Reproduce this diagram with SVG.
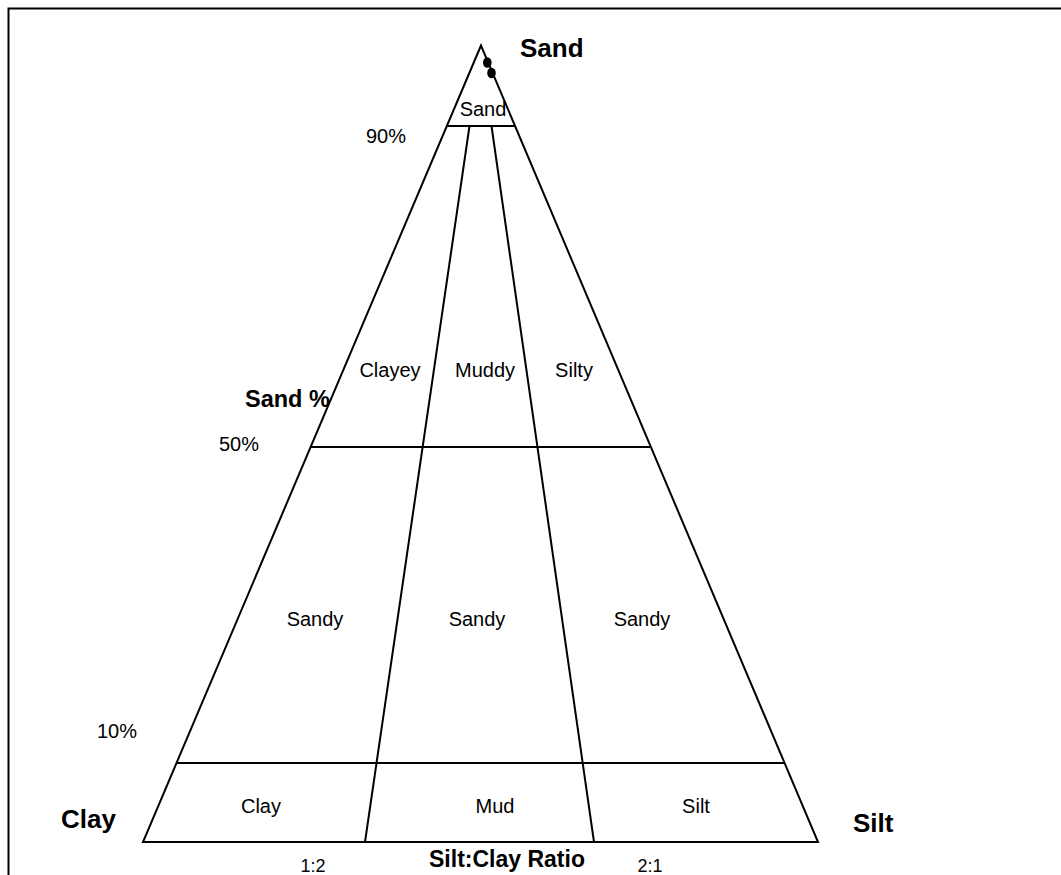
<svg xmlns="http://www.w3.org/2000/svg" width="1061" height="875" viewBox="0 0 1061 875">
<style>
.ln{stroke:#000;stroke-width:2;fill:none}
.t{font-family:"Liberation Sans",Arial,sans-serif;font-size:20px;fill:#000}
.b{font-family:"Liberation Sans",Arial,sans-serif;font-size:26px;font-weight:bold;fill:#000}
.m{text-anchor:middle}
</style>
<rect x="8.5" y="8.5" width="1100" height="1000" fill="#fff" stroke="#000" stroke-width="2"/>
<g id="connectors">
<polygon class="ln" points="481,45.5 143,842 818,842"/>
<line class="ln" x1="446" y1="126" x2="515" y2="126"/>
<line class="ln" x1="311" y1="447" x2="651" y2="447"/>
<line class="ln" x1="177" y1="763" x2="784" y2="763"/>
<line class="ln" x1="469.5" y1="126" x2="365" y2="842"/>
<line class="ln" x1="491.5" y1="126" x2="594" y2="842"/>
<ellipse cx="487.3" cy="62.5" rx="4.3" ry="5.3" fill="#000"/>
<ellipse cx="491.5" cy="73" rx="4.3" ry="5.3" fill="#000"/>
</g>
<g id="apex-labels">
<text class="b" x="520" y="57">Sand</text>
<text class="t m" x="483" y="116">Sand</text>
<text class="t" x="366" y="143">90%</text>
</g>
<g id="upper-zone">
<text class="t m" x="390" y="377">Clayey</text>
<text class="t m" x="485" y="377">Muddy</text>
<text class="t m" x="574" y="377">Silty</text>
<text class="b" x="245" y="407" style="font-size:23.5px">Sand %</text>
<text class="t" x="219" y="451">50%</text>
</g>
<g id="middle-zone">
<text class="t m" x="315" y="626">Sandy</text>
<text class="t m" x="477" y="626">Sandy</text>
<text class="t m" x="642" y="626">Sandy</text>
<text class="t" x="97" y="738">10%</text>
</g>
<g id="lower-zone">
<text class="t m" x="261" y="813">Clay</text>
<text class="t m" x="495" y="813">Mud</text>
<text class="t m" x="696" y="813">Silt</text>
<text class="b" x="61" y="828">Clay</text>
<text class="b" x="853" y="832">Silt</text>
</g>
<g id="axis-labels">
<text class="t m" x="313" y="872" style="font-size:18px">1:2</text>
<text class="b m" x="507" y="867" style="font-size:23px">Silt:Clay Ratio</text>
<text class="t m" x="650" y="872" style="font-size:18px">2:1</text>
</g>
</svg>
